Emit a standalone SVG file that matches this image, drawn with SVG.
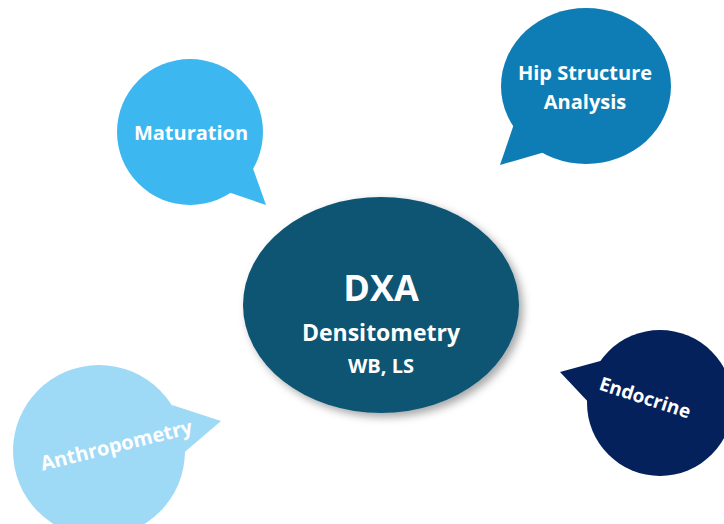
<svg xmlns="http://www.w3.org/2000/svg" width="724" height="524" viewBox="0 0 724 524">
  <defs>
    <filter id="shadow" x="-20%" y="-20%" width="150%" height="150%">
      <feDropShadow dx="4" dy="4" stdDeviation="4" flood-color="#000" flood-opacity="0.35"/>
    </filter>
  </defs>
  <style>
    text { font-family: "Open Sans", "Liberation Sans", sans-serif; font-weight: 700; fill: #ffffff; text-anchor: middle; }
  </style>
  <rect width="724" height="524" fill="#ffffff"/>

  <!-- Speech bubbles -->
  <g id="maturation">
    <circle cx="190" cy="132" r="73" fill="#3cb7f0"/>
    <polygon points="250,160 266,205 222,190" fill="#3cb7f0"/>
    <text x="191" y="140" font-size="20">Maturation</text>
  </g>

  <g id="hip-structure">
    <ellipse cx="586" cy="86" rx="85" ry="78" fill="#0f7db5"/>
    <polygon points="516,118 500,165 552,150" fill="#0f7db5"/>
    <text x="585" y="80" font-size="20">Hip Structure</text>
    <text x="585" y="109" font-size="20">Analysis</text>
  </g>

  <g id="endocrine">
    <circle cx="660" cy="403" r="73" fill="#04215c"/>
    <polygon points="604,360 560,372 592,406" fill="#04215c"/>
    <text x="0" y="0" font-size="19" transform="translate(643,404) rotate(18)">Endocrine</text>
  </g>

  <g id="anthropometry">
    <circle cx="99" cy="451" r="86" fill="#9ed9f6"/>
    <polygon points="172,405 221,421 180,456" fill="#9ed9f6"/>
    <text x="0" y="0" font-size="20" transform="translate(118,452) rotate(-14)">Anthropometry</text>
  </g>

  <!-- Central node -->
  <g id="dxa">
    <ellipse cx="381" cy="305" rx="138" ry="108" fill="#0c5473" filter="url(#shadow)"/>
    <text x="381" y="301" font-size="36">DXA</text>
    <text x="381" y="341" font-size="23">Densitometry</text>
    <text x="381" y="373" font-size="20">WB, LS</text>
  </g>

  <g id="connectors"/>
</svg>
